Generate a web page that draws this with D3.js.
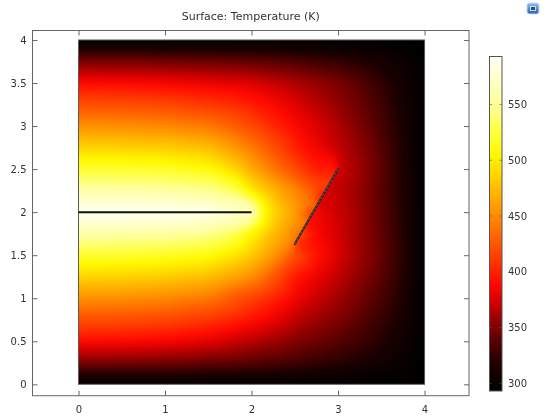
<!DOCTYPE html>
<html>
<head>
<meta charset="utf-8">
<script src="https://cdn.jsdelivr.net/npm/d3@7"></script>
<style>
  html, body { margin: 0; padding: 0; background: #fff; }
  #wrap { position: relative; width: 556px; height: 416px; overflow: hidden; }
  #wrap canvas, #wrap svg { position: absolute; left: 0; top: 0; }
</style>
</head>
<body>
<div id="wrap"></div>
<script>
// ---- Temperature field samples (K) on a rectilinear grid over the 4 x 4 domain ----
const gridX = [0, 0.5, 1, 1.5, 2, 2.25, 2.5, 2.75, 3, 3.25, 3.5, 3.75, 4];
const gridY = [0, 0.25, 0.5, 0.75, 1, 1.25, 1.5, 1.75, 2, 2.25, 2.5, 2.75, 3, 3.25, 3.5, 3.75, 4];
// one row per gridY value (bottom to top), one entry per gridX value
const tempRows = [
  [293, 293, 293, 293, 293, 293, 293, 293, 293, 293, 293, 293, 293],
  [348, 348, 346, 342, 337, 334, 330, 326, 321, 315, 309, 301, 293],
  [390, 389, 386, 379, 366, 359, 351, 344, 337, 329, 319, 307, 293],
  [421, 420, 417, 409, 393, 382, 369, 359, 350, 339, 326, 312, 293],
  [452, 451, 448, 441, 414, 401, 385, 371, 360, 347, 333, 316, 293],
  [486, 485, 482, 475, 452, 425, 396, 382, 369, 354, 338, 319, 293],
  [520, 519, 516, 509, 481, 457, 422, 394, 376, 360, 342, 321, 293],
  [557, 557, 555, 549, 503, 474, 447, 388, 374, 358, 340, 319, 293],
  [593, 593, 592, 590, 575, 490, 460, 385, 372, 358, 340, 318, 293],
  [557, 557, 555, 549, 497, 472, 449, 422, 370, 356, 338, 317, 293],
  [520, 519, 517, 509, 465, 441, 419, 397, 380, 360, 340, 317, 293],
  [486, 485, 483, 475, 442, 421, 400, 384, 370, 355, 337, 316, 293],
  [452, 451, 448, 441, 418, 403, 389, 377, 364, 349, 333, 314, 293],
  [421, 420, 417, 410, 398, 389, 378, 367, 356, 343, 329, 311, 293],
  [390, 389, 386, 382, 377, 370, 364, 357, 349, 338, 324, 309, 293],
  [348, 348, 346, 344, 341, 338, 335, 330, 325, 319, 313, 304, 293],
  [293, 293, 293, 293, 293, 293, 293, 293, 293, 293, 293, 293, 293]
];
// extra samples [x, y, T] around the end of the heater
const tipSamples = [
  [1.75, 2.25, 535], [1.75, 1.75, 535], [1.75, 2.5, 492], [1.75, 1.5, 497],
  [1.875, 2.125, 560], [1.875, 1.875, 560],
  [2, 2.125, 540], [2, 1.875, 540],
  [2.125, 2, 508], [2.125, 2.125, 505], [2.125, 1.875, 507]
];

// ---- Slanted crack (thin insulating slit) and samples on either face ----
const crackStart = [2.5, 1.63];
const crackEnd = [3.0, 2.5];
const crackPos = [0, 0.25, 0.5, 0.75, 1];          // fraction along the crack
const crackWarmFace = [445, 445, 435, 418, 395];   // face towards the heater
const crackCoolFace = [405, 388, 380, 372, 372];   // far face

// ---- Line heater ----
const heaterLine = [[0, 2], [2, 2]];

// ---- Axes and colour legend ----
const xTicks = [0, 1, 2, 3, 4];
const yTicks = [0, 0.5, 1, 1.5, 2, 2.5, 3, 3.5, 4];
const barTicks = [300, 350, 400, 450, 500, 550];
const tempRange = [293.15, 593];
const titleText = "Surface: Temperature (K)";

// ---- Layout ----
const W = 556, H = 416;
const frame = { left: 32.5, right: 469, top: 30.5, bottom: 395.7 };
const bar = { x: 489.5, w: 12.5, top: 56.5, bottom: 391 };
const font = "DejaVu Sans, Verdana, sans-serif";

const xScale = d3.scaleLinear().domain([-0.532, 4.514]).range([frame.left, frame.right]);
const yScale = d3.scaleLinear().domain([-0.132, 4.11]).range([frame.bottom, frame.top]);

// thermal colour map: black -> red -> yellow -> white
const cmapStops = [293, 315, 335, 355, 375, 390, 410, 430, 450, 470, 490, 505, 525, 550, 575, 593];
const cmapColors = ["#000000", "#1a0000", "#500000", "#900000", "#d80000", "#ff0a00", "#ff3800",
  "#ff6000", "#ff8c00", "#ffb400", "#ffdc00", "#fff800", "#ffff40", "#ffff98", "#ffffd0", "#fffff4"];
const color = d3.scaleLinear().domain(cmapStops).range(cmapColors)
  .interpolate(d3.interpolateRgb).clamp(true);

const LUT_N = 1024;
const lut = d3.range(LUT_N).map(i => {
  const c = d3.rgb(color(tempRange[0] + (tempRange[1] - tempRange[0]) * i / (LUT_N - 1)));
  return [c.r, c.g, c.b];
});
function lutColor(t) {
  let i = Math.round((t - tempRange[0]) / (tempRange[1] - tempRange[0]) * (LUT_N - 1));
  i = Math.max(0, Math.min(LUT_N - 1, i));
  return lut[i];
}

// ---- Mesh nodes ----
const nodes = [];
gridY.forEach((gy, j) => gridX.forEach((gx, i) => nodes.push({ x: gx, y: gy, t: tempRows[j][i] })));
tipSamples.forEach(([x, y, t]) => nodes.push({ x, y, t }));
const cdx = crackEnd[0] - crackStart[0], cdy = crackEnd[1] - crackStart[1];
const clen = Math.hypot(cdx, cdy);
const nx = -cdy / clen, ny = cdx / clen;   // unit normal towards the heater side
const off = 0.02;
crackPos.forEach((s, k) => {
  const cx = crackStart[0] + s * cdx, cy = crackStart[1] + s * cdy;
  nodes.push({ x: cx + nx * off, y: cy + ny * off, t: crackWarmFace[k] });
  nodes.push({ x: cx - nx * off, y: cy - ny * off, t: crackCoolFace[k] });
});

const pts = nodes.map(n => [xScale(n.x), yScale(n.y)]);
const delaunay = d3.Delaunay.from(pts);

// ---- Piecewise-linear temperature on the pixel grid ----
const dX0 = xScale(0), dX1 = xScale(4), dY0 = yScale(4), dY1 = yScale(0);
const field = new Float32Array(W * H).fill(NaN);
const tri = delaunay.triangles;
for (let t = 0; t < tri.length; t += 3) {
  const a = tri[t], b = tri[t + 1], c = tri[t + 2];
  const [ax, ay] = pts[a], [bx, by] = pts[b], [cx, cy] = pts[c];
  const den = (by - cy) * (ax - cx) + (cx - bx) * (ay - cy);
  if (Math.abs(den) < 1e-9) continue;
  const x0 = Math.max(0, Math.floor(Math.min(ax, bx, cx)) - 1);
  const x1 = Math.min(W - 1, Math.ceil(Math.max(ax, bx, cx)) + 1);
  const y0 = Math.max(0, Math.floor(Math.min(ay, by, cy)) - 1);
  const y1 = Math.min(H - 1, Math.ceil(Math.max(ay, by, cy)) + 1);
  for (let py = y0; py <= y1; py++) {
    const Y = py + 0.5;
    if (Y < dY0 - 0.01 || Y > dY1 + 0.01) continue;
    for (let px = x0; px <= x1; px++) {
      const X = px + 0.5;
      if (X < dX0 - 0.01 || X > dX1 + 0.01) continue;
      const w1 = ((by - cy) * (X - cx) + (cx - bx) * (Y - cy)) / den;
      const w2 = ((cy - ay) * (X - cx) + (ax - cx) * (Y - cy)) / den;
      const w3 = 1 - w1 - w2;
      if (w1 < -1e-7 || w2 < -1e-7 || w3 < -1e-7) continue;
      field[py * W + px] = w1 * nodes[a].t + w2 * nodes[b].t + w3 * nodes[c].t;
    }
  }
}

// ---- Smoothing pass that does not leak heat across the crack ----
const cA = [xScale(crackStart[0]), yScale(crackStart[1])];
const cB = [xScale(crackEnd[0]), yScale(crackEnd[1])];
function crackXAt(Y) {               // crack x at pixel row Y, or null
  const lo = Math.min(cA[1], cB[1]), hi = Math.max(cA[1], cB[1]);
  if (Y < lo || Y > hi) return null;
  return cA[0] + (Y - cA[1]) / (cB[1] - cA[1]) * (cB[0] - cA[0]);
}
function crackYAt(X) {               // crack y at pixel column X, or null
  const lo = Math.min(cA[0], cB[0]), hi = Math.max(cA[0], cB[0]);
  if (X < lo || X > hi) return null;
  return cA[1] + (X - cA[0]) / (cB[0] - cA[0]) * (cB[1] - cA[1]);
}
const sigma = 4, R = 10;
const kern = d3.range(-R, R + 1).map(k => Math.exp(-k * k / (2 * sigma * sigma)));
function pass(src, horizontal) {
  const out = new Float32Array(W * H).fill(NaN);
  for (let py = 0; py < H; py++) {
    for (let px = 0; px < W; px++) {
      const idx = py * W + px;
      if (isNaN(src[idx])) continue;
      const X = px + 0.5, Y = py + 0.5;
      const cut = horizontal ? crackXAt(Y) : crackYAt(X);
      let s = 0, ws = 0;
      for (let k = -R; k <= R; k++) {
        const qx = horizontal ? px + k : px, qy = horizontal ? py : py + k;
        if (qx < 0 || qx >= W || qy < 0 || qy >= H) continue;
        const v = src[qy * W + qx];
        if (isNaN(v)) continue;
        if (cut !== null) {
          const p0 = horizontal ? X : Y, q0 = (horizontal ? qx : qy) + 0.5;
          if ((p0 - cut) * (q0 - cut) < 0) continue;
        }
        s += v * kern[k + R]; ws += kern[k + R];
      }
      out[idx] = s / ws;
    }
  }
  return out;
}
const smooth = pass(pass(field, true), false);

// ---- Paint ----
const wrap = d3.select("#wrap");
const canvas = wrap.append("canvas").attr("width", W).attr("height", H).node();
const ctx = canvas.getContext("2d");
const img = ctx.createImageData(W, H);
for (let i = 0; i < W * H; i++) {
  const o = i * 4;
  const v = smooth[i];
  if (isNaN(v)) { img.data[o] = img.data[o + 1] = img.data[o + 2] = 255; }
  else { const c = lutColor(v); img.data[o] = c[0]; img.data[o + 1] = c[1]; img.data[o + 2] = c[2]; }
  img.data[o + 3] = 255;
}
ctx.putImageData(img, 0, 0);

// ---- Vector overlay ----
const svg = wrap.append("svg").attr("width", W).attr("height", H)
  .style("font-family", font);

svg.append("rect")
  .attr("x", dX0).attr("y", dY0)
  .attr("width", dX1 - dX0).attr("height", dY1 - dY0)
  .attr("fill", "none").attr("stroke", "#5a5a5a").attr("stroke-width", 1);

svg.append("line")
  .attr("x1", xScale(heaterLine[0][0])).attr("y1", yScale(heaterLine[0][1]))
  .attr("x2", xScale(heaterLine[1][0])).attr("y2", yScale(heaterLine[1][1]))
  .attr("stroke", "#111").attr("stroke-width", 2);

svg.append("line")
  .attr("x1", cA[0]).attr("y1", cA[1]).attr("x2", cB[0]).attr("y2", cB[1])
  .attr("stroke", "#2a2a2a").attr("stroke-width", 2.2).attr("stroke-linecap", "round");
svg.append("line")
  .attr("x1", cA[0]).attr("y1", cA[1]).attr("x2", cB[0]).attr("y2", cB[1])
  .attr("stroke", "#9a8f80").attr("stroke-width", 0.6).attr("stroke-dasharray", "2,2");

svg.append("rect")
  .attr("x", frame.left).attr("y", frame.top)
  .attr("width", frame.right - frame.left).attr("height", frame.bottom - frame.top)
  .attr("fill", "none").attr("stroke", "#666").attr("stroke-width", 1);

const fmt = d3.format("~g");
function styleAxis(g) {
  g.select(".domain").remove();
  g.selectAll(".tick line").attr("stroke", "#666");
  g.selectAll(".tick text").attr("fill", "#333").style("font-size", "10px").style("font-family", font);
}
svg.append("g").attr("transform", `translate(0,${frame.bottom})`)
  .call(d3.axisBottom(xScale).tickValues(xTicks).tickFormat(fmt).tickSize(-5).tickPadding(10))
  .call(styleAxis);
svg.append("g").attr("transform", `translate(0,${frame.top})`)
  .call(d3.axisTop(xScale).tickValues(xTicks).tickFormat("").tickSize(-5))
  .call(styleAxis);
svg.append("g").attr("transform", `translate(${frame.left},0)`)
  .call(d3.axisLeft(yScale).tickValues(yTicks).tickFormat(fmt).tickSize(-5).tickPadding(6))
  .call(styleAxis);
svg.append("g").attr("transform", `translate(${frame.right},0)`)
  .call(d3.axisRight(yScale).tickValues(yTicks).tickFormat("").tickSize(-5))
  .call(styleAxis);

svg.append("text")
  .attr("x", (frame.left + frame.right) / 2).attr("y", 20)
  .attr("text-anchor", "middle").attr("fill", "#333")
  .style("font-size", "11px").text(titleText);

// ---- Colour legend ----
const barScale = d3.scaleLinear().domain(tempRange).range([bar.bottom, bar.top]);
const defs = svg.append("defs");
const grad = defs.append("linearGradient").attr("id", "thermal")
  .attr("x1", 0).attr("y1", 1).attr("x2", 0).attr("y2", 0);
d3.range(0, 1.0001, 1 / 80).forEach(f => {
  grad.append("stop").attr("offset", f)
    .attr("stop-color", color(tempRange[0] + f * (tempRange[1] - tempRange[0])));
});
svg.append("rect")
  .attr("x", bar.x).attr("y", bar.top).attr("width", bar.w).attr("height", bar.bottom - bar.top)
  .attr("fill", "url(#thermal)").attr("stroke", "#555").attr("stroke-width", 1);
const barG = svg.append("g");
barTicks.forEach(v => {
  const y = barScale(v);
  barG.append("line").attr("x1", bar.x).attr("x2", bar.x + 2.5).attr("y1", y).attr("y2", y)
    .attr("stroke", "#555").attr("stroke-opacity", 0.6);
  barG.append("line").attr("x1", bar.x + bar.w - 2.5).attr("x2", bar.x + bar.w).attr("y1", y).attr("y2", y)
    .attr("stroke", "#555").attr("stroke-opacity", 0.6);
  barG.append("text").attr("x", bar.x + bar.w + 6).attr("y", y).attr("dy", "0.35em")
    .attr("fill", "#333").style("font-size", "10px").text(v);
});

// ---- Toolbar glyph in the corner ----
const icon = svg.append("g").attr("transform", "translate(527,3)");
const ig = defs.append("linearGradient").attr("id", "iconGrad")
  .attr("x1", 0).attr("y1", 0).attr("x2", 0).attr("y2", 1);
ig.append("stop").attr("offset", 0).attr("stop-color", "#8fc0f5");
ig.append("stop").attr("offset", 1).attr("stop-color", "#1f5fc4");
icon.append("rect").attr("x", 0).attr("y", 0).attr("width", 12).attr("height", 11).attr("rx", 2.5)
  .attr("fill", "url(#iconGrad)").attr("stroke", "#c9daf0").attr("stroke-width", 1);
icon.append("rect").attr("x", 3).attr("y", 3).attr("width", 6).attr("height", 5)
  .attr("fill", "#f2e7a0").attr("opacity", 0.85);
icon.append("rect").attr("x", 4).attr("y", 4).attr("width", 4).attr("height", 3)
  .attr("fill", "#1a4fae");
</script>
</body>
</html>
